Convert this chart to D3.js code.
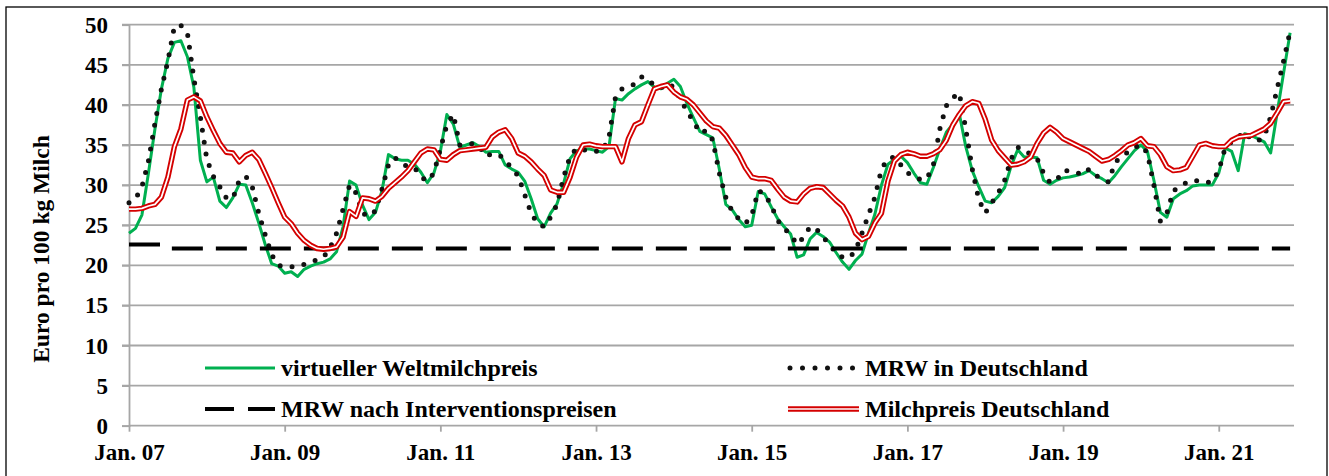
<!DOCTYPE html>
<html>
<head>
<meta charset="utf-8">
<script src="https://cdn.jsdelivr.net/npm/d3@7"></script>
<style>
  html, body { margin: 0; padding: 0; background: #fff; }
  svg { display: block; }
  text { font-family: "Liberation Serif", "Times New Roman", serif; font-weight: bold; fill: #000; }
</style>
</head>
<body>
<svg id="chart" width="1329" height="476"></svg>
<script>
// ---------- DATA ----------
const startMonth = new Date(2007, 0, 1);
const months = d3.timeMonth.range(startMonth, new Date(2022, 0, 1)); // Jan 07 .. Dec 21

const tickLabels = ["Jan. 07", "Jan. 09", "Jan. 11", "Jan. 13", "Jan. 15", "Jan. 17", "Jan. 19", "Jan. 21"];
const yTicks = [0, 5, 10, 15, 20, 25, 30, 35, 40, 45, 50];

const seriesNames = ["virtueller Weltmilchpreis", "MRW in Deutschland", "MRW nach Interventionspreisen", "Milchpreis Deutschland"];

// virtueller Weltmilchpreis (green)
const weltmilchpreis = [
  24.0, 24.6, 26.3, 31.5, 37.0, 42.0, 45.8, 47.8, 48.0, 46.0, 42.2, 33.1,
  30.4, 31.0, 28.0, 27.2, 28.4, 30.1, 30.0, 27.8, 25.3, 22.6, 20.2, 19.9,
  19.0, 19.2, 18.6, 19.5, 19.9, 20.2, 20.4, 20.8, 21.7, 24.8, 30.5, 30.0,
  27.5, 25.7, 26.6, 29.3, 33.8, 33.3, 33.1, 33.1, 32.6, 31.6, 30.3, 31.5,
  34.2, 38.8, 37.6, 34.7, 35.0, 35.3, 34.8, 34.1, 34.2, 34.2, 32.5, 32.0,
  31.6, 30.5, 28.3, 25.8, 24.8, 26.5, 27.7, 30.2, 33.3, 34.3, 34.5, 34.5,
  34.3, 34.1, 34.8, 40.8, 40.6, 41.4, 42.0, 42.5, 42.9, 42.2, 42.0, 42.7,
  43.2, 42.3, 40.2, 38.4, 36.7, 36.3, 35.9, 32.0, 27.6, 26.9, 25.7, 24.8,
  25.0, 29.2, 28.9, 27.3, 25.8, 24.8, 23.9, 21.0, 21.3, 23.3, 24.1, 23.6,
  22.9, 21.6, 20.4, 19.5, 20.6, 21.4, 24.0, 26.4, 30.0, 32.6, 33.2, 33.6,
  32.8, 31.5, 30.3, 30.1, 32.2, 34.5, 36.6, 37.6, 38.9, 34.8, 31.8, 29.8,
  28.0, 27.8, 28.6, 29.7, 32.4, 34.4, 33.5, 33.5, 33.4, 30.6, 30.1, 30.6,
  30.9, 31.0, 31.2, 31.4, 31.8, 31.2, 30.8, 30.3, 31.2, 32.3, 33.3, 34.3,
  35.0, 34.2, 30.6, 26.6, 26.0, 28.3, 28.9, 29.3, 29.9, 30.0, 30.0, 30.0,
  31.5, 34.6, 34.2, 31.8, 36.4, 36.2, 35.8, 35.4, 34.0, 39.0, 44.0, 49.0
];

// MRW in Deutschland (black dotted)
const mrwDeutschland = [
  27.8, 28.3, 29.8, 33.0, 37.7, 42.0, 45.5, 49.8, 49.9, 49.0, 43.3, 38.5,
  33.2, 31.1, 29.8, 28.4, 28.3, 30.6, 31.1, 29.8, 26.5, 23.8, 21.3, 20.0,
  19.8, 19.8, 19.9, 20.1, 20.4, 20.7, 21.0, 22.2, 24.0, 27.0, 30.0, 29.0,
  26.5, 26.1, 26.8, 29.5, 32.5, 33.4, 32.7, 32.3, 32.2, 31.0, 30.5, 31.5,
  34.5, 37.5, 38.8, 35.0, 35.0, 35.2, 34.8, 33.6, 33.9, 33.8, 33.2, 32.0,
  31.2, 28.8, 26.5, 25.2, 24.8, 26.0, 27.6, 31.0, 33.6, 34.6, 34.4, 34.3,
  34.2, 34.3, 36.0, 41.0, 42.0, 42.3, 42.6, 43.5, 43.2, 42.4, 42.1, 42.7,
  42.2, 40.8, 39.2, 38.0, 36.5, 36.8, 35.6, 31.5, 28.5, 26.7, 25.8, 25.2,
  26.2, 29.3, 28.9, 27.5, 25.6, 24.6, 23.8, 22.6, 23.5, 24.8, 24.5, 23.5,
  22.6, 21.5, 21.0, 20.9, 21.8, 24.0, 26.3, 28.5, 32.0, 33.3, 33.5, 32.5,
  31.5, 31.2, 30.7, 30.8, 32.5, 37.0, 39.9, 40.9, 41.5, 37.0, 32.0, 28.2,
  26.5, 27.8, 29.0, 30.6, 33.3, 34.7, 34.5, 33.8, 33.3, 31.5, 30.3, 30.6,
  31.8, 31.8, 31.6, 31.3, 32.0, 31.2, 30.8, 30.4, 32.8, 33.6, 34.1, 34.7,
  35.0, 34.0, 30.0, 25.5, 26.5, 29.3, 29.8, 30.3, 30.6, 30.5, 30.3, 30.4,
  31.8, 34.7, 35.4, 36.0, 36.6, 35.7, 35.5, 36.0, 38.5, 42.0, 45.5, 49.2
];

// MRW nach Interventionspreisen (black dashed)
const mrwIntervention = [
  22.6, 22.6, 22.6, 22.6, 22.6, 22.6, 22.1, 22.1, 22.1, 22.1, 22.1, 22.1,
  22.1, 22.1, 22.1, 22.1, 22.1, 22.1, 22.1, 22.1, 22.1, 22.1, 22.1, 22.1,
  22.1, 22.1, 22.1, 22.1, 22.1, 22.1, 22.1, 22.1, 22.1, 22.1, 22.1, 22.1,
  22.1, 22.1, 22.1, 22.1, 22.1, 22.1, 22.1, 22.1, 22.1, 22.1, 22.1, 22.1,
  22.1, 22.1, 22.1, 22.1, 22.1, 22.1, 22.1, 22.1, 22.1, 22.1, 22.1, 22.1,
  22.1, 22.1, 22.1, 22.1, 22.1, 22.1, 22.1, 22.1, 22.1, 22.1, 22.1, 22.1,
  22.1, 22.1, 22.1, 22.1, 22.1, 22.1, 22.1, 22.1, 22.1, 22.1, 22.1, 22.1,
  22.1, 22.1, 22.1, 22.1, 22.1, 22.1, 22.1, 22.1, 22.1, 22.1, 22.1, 22.1,
  22.1, 22.1, 22.1, 22.1, 22.1, 22.1, 22.1, 22.1, 22.1, 22.1, 22.1, 22.1,
  22.1, 22.1, 22.1, 22.1, 22.1, 22.1, 22.1, 22.1, 22.1, 22.1, 22.1, 22.1,
  22.1, 22.1, 22.1, 22.1, 22.1, 22.1, 22.1, 22.1, 22.1, 22.1, 22.1, 22.1,
  22.1, 22.1, 22.1, 22.1, 22.1, 22.1, 22.1, 22.1, 22.1, 22.1, 22.1, 22.1,
  22.1, 22.1, 22.1, 22.1, 22.1, 22.1, 22.1, 22.1, 22.1, 22.1, 22.1, 22.1,
  22.1, 22.1, 22.1, 22.1, 22.1, 22.1, 22.1, 22.1, 22.1, 22.1, 22.1, 22.1,
  22.1, 22.1, 22.1, 22.1, 22.1, 22.1, 22.1, 22.1, 22.1, 22.1, 22.1, 22.1
];

// Milchpreis Deutschland (red double line)
const milchpreis = [
  27.0, 27.0, 27.1, 27.4, 27.6, 28.5, 31.0, 34.8, 37.0, 40.6, 41.0, 40.5,
  38.5, 36.8, 35.2, 34.1, 34.0, 32.9, 33.7, 34.1, 33.2, 31.5, 29.7, 27.8,
  26.0, 25.2, 24.0, 23.1, 22.5, 22.1, 22.0, 22.1, 22.3, 23.5, 26.7, 26.1,
  28.4, 28.3, 28.0, 28.6, 29.6, 30.3, 31.0, 31.8, 32.9, 34.0, 34.5, 34.4,
  33.2, 33.1, 33.8, 34.3, 34.4, 34.5, 34.6, 34.7, 36.0, 36.6, 36.9, 35.8,
  34.0, 33.6, 32.9, 32.0, 31.2, 29.4, 29.1, 29.1, 31.0, 33.5, 35.0, 35.1,
  34.9, 34.8, 34.8, 34.8, 32.9, 35.8, 37.5, 37.9, 40.0, 42.0, 42.3, 42.5,
  41.6, 41.0, 40.7, 40.0, 39.0, 38.0, 37.3, 37.1, 36.2, 35.0, 33.8, 32.2,
  31.0, 30.8, 30.8, 30.6, 29.5, 28.5, 28.0, 27.9, 28.9, 29.6, 29.8, 29.7,
  28.9, 28.1, 27.4, 26.0, 24.0, 23.2, 23.6, 25.3, 26.5, 30.5, 33.0, 33.8,
  34.1, 33.9, 33.6, 33.6, 33.9, 34.4, 35.6, 37.5, 38.8, 39.9, 40.4, 40.2,
  38.2, 35.6, 34.3, 33.4, 32.5, 32.6, 32.9, 33.5, 35.2, 36.5, 37.2, 36.6,
  35.8, 35.4, 35.0, 34.6, 34.2, 33.6, 33.0, 33.2, 33.7, 34.3, 35.0, 35.3,
  35.8, 34.9, 34.8, 33.8, 32.3, 31.8, 31.9, 32.2, 33.6, 35.0, 35.2, 34.9,
  34.8, 34.8, 35.6, 36.0, 36.1, 36.2, 36.6, 37.0, 37.7, 39.0, 40.4, 40.5
];

// ---------- CHART ----------
const svg = d3.select("#chart");

// outer frame
svg.append("rect")
  .attr("x", 6).attr("y", 7).attr("width", 1321).attr("height", 480)
  .attr("fill", "#fff").attr("stroke", "#000").attr("stroke-width", 1.3);

const x = d3.scaleLinear().domain([0, 179.6]).range([129, 1294]);
const y = d3.scaleLinear().domain([0, 50]).range([425.7, 24.7]);

const gridColor = "#a6a6a6";

// gridlines
svg.append("g").selectAll("line").data(yTicks.filter(d => d > 0)).join("line")
  .attr("x1", 122).attr("x2", 1294)
  .attr("y1", d => y(d)).attr("y2", d => y(d))
  .attr("stroke", gridColor).attr("stroke-width", 1.8);

// y axis
const yAxis = svg.append("g").attr("transform", `translate(${x(0)},0)`)
  .call(d3.axisLeft(y).tickValues(yTicks).tickSize(7).tickPadding(14).tickFormat(d3.format("d")));
yAxis.select(".domain").attr("stroke", gridColor).attr("stroke-width", 1.8);
yAxis.selectAll(".tick line").attr("stroke", gridColor).attr("stroke-width", 1.8);
yAxis.selectAll(".tick text")
  .attr("font-family", "Liberation Serif").attr("font-weight", "bold")
  .attr("font-size", 23).attr("fill", "#000").attr("dy", "0.33em");

// x axis
const xTickVals = tickLabels.map((d, i) => i * 24);
const xAxis = svg.append("g").attr("transform", `translate(0,${y(0)})`)
  .call(d3.axisBottom(x).tickValues(xTickVals).tickSize(6).tickPadding(12)
    .tickFormat((d, i) => tickLabels[i]));
xAxis.select(".domain").attr("stroke", gridColor).attr("stroke-width", 1.8)
  .attr("d", `M${x(0)},0H1294`);
xAxis.selectAll(".tick line").attr("stroke", gridColor).attr("stroke-width", 1.8);
xAxis.selectAll(".tick text")
  .attr("font-family", "Liberation Serif").attr("font-weight", "bold")
  .attr("font-size", 23).attr("fill", "#000").attr("dy", "0.71em");

// y axis title
svg.append("text")
  .attr("transform", "translate(49,249) rotate(-90)")
  .attr("text-anchor", "middle")
  .attr("font-size", 23.5)
  .text("Euro pro 100 kg Milch");

// lines
const line = d3.line().x((d, i) => x(i)).y(d => y(d));

svg.append("path").datum(weltmilchpreis).attr("d", line)
  .attr("fill", "none").attr("stroke", "#00B050").attr("stroke-width", 3)
  .attr("stroke-linejoin", "round");

svg.append("path").datum(mrwDeutschland).attr("d", line)
  .attr("fill", "none").attr("stroke", "#111").attr("stroke-width", 5)
  .attr("stroke-linecap", "round").attr("stroke-dasharray", "0,12");

svg.append("path").datum(mrwIntervention).attr("d", line)
  .attr("fill", "none").attr("stroke", "#000").attr("stroke-width", 4)
  .attr("stroke-dasharray", "31,13");

const red = svg.append("g");
red.append("path").datum(milchpreis).attr("d", line)
  .attr("fill", "none").attr("stroke", "#D40000").attr("stroke-width", 5.4)
  .attr("stroke-linejoin", "round");
red.append("path").datum(milchpreis).attr("d", line)
  .attr("fill", "none").attr("stroke", "#fff").attr("stroke-width", 1.7)
  .attr("stroke-linejoin", "round");

// legend
const lg = svg.append("g");
const row1 = 368, row2 = 409, legendFont = 24;
// green
lg.append("line").attr("x1", 205).attr("x2", 275).attr("y1", row1).attr("y2", row1)
  .attr("stroke", "#00B050").attr("stroke-width", 3);
lg.append("text").attr("x", 281).attr("y", row1 + 7.5).attr("font-size", legendFont).text(seriesNames[0]);
// dotted
lg.append("line").attr("x1", 790).attr("x2", 853).attr("y1", row1).attr("y2", row1)
  .attr("stroke", "#111").attr("stroke-width", 5).attr("stroke-linecap", "round")
  .attr("stroke-dasharray", "0,12.5");
lg.append("text").attr("x", 865).attr("y", row1 + 7.5).attr("font-size", legendFont).text(seriesNames[1]);
// dashed
lg.append("line").attr("x1", 205).attr("x2", 275).attr("y1", row2).attr("y2", row2)
  .attr("stroke", "#000").attr("stroke-width", 4).attr("stroke-dasharray", "29,14");
lg.append("text").attr("x", 281).attr("y", row2 + 7.5).attr("font-size", legendFont).text(seriesNames[2]);
// red double
lg.append("line").attr("x1", 788).attr("x2", 859).attr("y1", row2).attr("y2", row2)
  .attr("stroke", "#D40000").attr("stroke-width", 5.4);
lg.append("line").attr("x1", 788).attr("x2", 859).attr("y1", row2).attr("y2", row2)
  .attr("stroke", "#fff").attr("stroke-width", 1.7);
lg.append("text").attr("x", 865).attr("y", row2 + 7.5).attr("font-size", legendFont).text(seriesNames[3]);
</script>
</body>
</html>
